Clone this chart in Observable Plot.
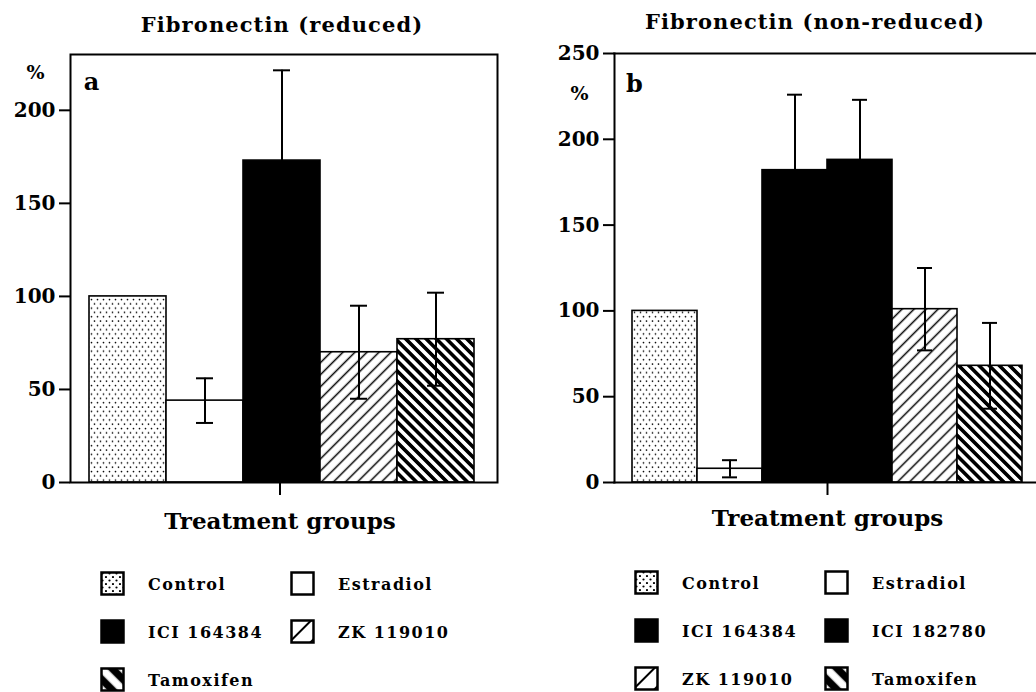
<!DOCTYPE html>
<html><head><meta charset="utf-8">
<script src="https://cdn.jsdelivr.net/npm/d3@7"></script>
<script src="https://cdn.jsdelivr.net/npm/@observablehq/plot@0.6"></script>
<style>
html,body{margin:0;padding:0;background:#fff;overflow:hidden}
#root{position:relative;width:1036px;height:692px;font-family:"DejaVu Serif",serif;font-weight:bold;color:#000;overflow:hidden}
.title{position:absolute;font-size:21px;line-height:24px;white-space:nowrap;transform:translateX(-50%);letter-spacing:1.1px}
.panel{position:absolute;top:40px}
.legend{position:absolute;display:grid;grid-template-columns:48px 142px 48px auto;grid-auto-rows:48px;align-items:center;font-size:16px;letter-spacing:1.5px}
.legend svg{display:block}
</style></head><body>
<svg width="0" height="0" style="position:absolute">
<defs>
<pattern id="dots" patternUnits="userSpaceOnUse" width="6" height="8.6"><rect width="6" height="8.6" fill="white"/><circle cx="1.5" cy="1.5" r="0.85" fill="black"/><circle cx="4.5" cy="5.8" r="0.85" fill="black"/></pattern>
<pattern id="fwd" patternUnits="userSpaceOnUse" width="8.5" height="8" patternTransform="rotate(45)"><rect width="8.5" height="8" fill="white"/><line x1="4.25" y1="-1" x2="4.25" y2="9" stroke="black" stroke-width="1.5"/></pattern>
<pattern id="back" patternUnits="userSpaceOnUse" width="7.2" height="8" patternTransform="rotate(-45)"><rect width="7.2" height="8" fill="white"/><line x1="3.6" y1="-1" x2="3.6" y2="9" stroke="black" stroke-width="3.6"/></pattern>
<pattern id="ldots" patternUnits="userSpaceOnUse" width="7" height="7"><rect width="7" height="7" fill="white"/><circle cx="2.5" cy="2.5" r="1.1" fill="black"/><circle cx="6" cy="6" r="1.1" fill="black"/></pattern>
<pattern id="lfwd" patternUnits="userSpaceOnUse" width="15" height="15" patternTransform="rotate(45)"><rect width="15" height="15" fill="white"/><line x1="0" y1="-1" x2="0" y2="16" stroke="black" stroke-width="4"/></pattern>
<pattern id="lback" patternUnits="userSpaceOnUse" width="15" height="15" patternTransform="rotate(-45)"><rect width="15" height="15" fill="white"/><line x1="7.5" y1="-1" x2="7.5" y2="16" stroke="black" stroke-width="7.5"/></pattern>
</defs></svg>
<div id="root"></div>
<script>
// ---- data ----
const groupLabel = "Treatment groups";
const titleA = "Fibronectin (reduced)";
const titleB = "Fibronectin (non-reduced)";
const categoriesA = ["Control", "Estradiol", "ICI 164384", "ZK 119010", "Tamoxifen"];
const valuesA = [100, 44, 173, 70, 77];
const errorsA = [null, 12, 48.5, 25, 25];
const ticksA = [0, 50, 100, 150, 200];
const categoriesB = ["Control", "Estradiol", "ICI 164384", "ICI 182780", "ZK 119010", "Tamoxifen"];
const valuesB = [100, 8, 182, 188, 101, 68];
const errorsB = [null, 5, 44, 35, 24, 25];
const ticksB = [0, 50, 100, 150, 200, 250];

// ---- styles ----
const fills = {"Control": "url(#dots)", "Estradiol": "white", "ICI 164384": "black", "ICI 182780": "black", "ZK 119010": "url(#fwd)", "Tamoxifen": "url(#back)"};
const legendFills = {"Control": "url(#ldots)", "Estradiol": "white", "ICI 164384": "black", "ICI 182780": "black", "ZK 119010": "url(#lfwd)", "Tamoxifen": "url(#lback)"};

const root = document.getElementById("root");

function panel(o) {
  const data = o.cats.map((t, i) => ({g: groupLabel, t, v: o.vals[i], e: o.errs[i]}));
  const withErr = data.filter(d => d.e != null);
  const frames = o.open
    ? [Plot.frame({anchor: "left", stroke: "black", strokeWidth: 2}),
       Plot.frame({anchor: "top", stroke: "black", strokeWidth: 2}),
       Plot.frame({anchor: "bottom", stroke: "black", strokeWidth: 2})]
    : [Plot.frame({stroke: "black", strokeWidth: 2})];
  return Plot.plot({
    width: o.width, height: 505,
    marginLeft: o.marginLeft, marginRight: o.marginRight, marginTop: o.marginTop, marginBottom: 63,
    style: {fontFamily: "DejaVu Serif", fontWeight: "bold", fontSize: "20px", color: "black", background: "transparent", overflow: "visible"},
    fx: {domain: [groupLabel], padding: 0, label: null},
    x: {domain: o.cats, paddingInner: 0, paddingOuter: o.paddingOuter, align: o.align, axis: null},
    y: {domain: o.domain},
    color: {type: "identity"},
    marks: [
      Plot.barY(data, {fx: "g", x: "t", y: "v", fill: d => fills[d.t], stroke: "black", strokeWidth: 1.6}),
      Plot.ruleX(withErr, {fx: "g", x: "t", y1: d => d.v - d.e, y2: d => d.v + d.e, stroke: "black", strokeWidth: 2}),
      Plot.tickY(withErr, {fx: "g", x: "t", y: d => d.v + d.e, stroke: "black", strokeWidth: 2, insetLeft: o.capInset, insetRight: o.capInset}),
      Plot.tickY(withErr, {fx: "g", x: "t", y: d => d.v - d.e, stroke: "black", strokeWidth: 2, insetLeft: o.capInset, insetRight: o.capInset}),
      ...frames,
      Plot.axisY({ticks: o.ticks, tickSize: 11, tickPadding: 4, strokeWidth: 2, fontSize: 20, label: null}),
      Plot.axisFx({anchor: "bottom", tickSize: 13, tickPadding: o.fxPad, strokeWidth: 2, fontSize: 23, label: null, dx: o.fxDx}),
      Plot.text(["%"], {frameAnchor: "top-left", dx: o.pct[0], dy: o.pct[1], fontSize: 19, textAnchor: "middle", lineAnchor: "middle"}),
      Plot.text([o.letter], {frameAnchor: "top-left", dx: o.let[0], dy: o.let[1], fontSize: 24, textAnchor: "middle", lineAnchor: "middle"})
    ]
  });
}

function addTitle(text, cx, top) {
  const d = document.createElement("div");
  d.className = "title"; d.textContent = text;
  d.style.left = cx + "px"; d.style.top = top + "px";
  root.appendChild(d);
}

function addLegend(cats, left, top) {
  const d = document.createElement("div");
  d.className = "legend"; d.style.left = left + "px"; d.style.top = top + "px";
  for (const c of cats) {
    const sw = document.createElementNS("http://www.w3.org/2000/svg", "svg");
    sw.setAttribute("width", 26); sw.setAttribute("height", 26);
    const r = document.createElementNS("http://www.w3.org/2000/svg", "rect");
    r.setAttribute("x", 1.5); r.setAttribute("y", 1.5); r.setAttribute("width", 22); r.setAttribute("height", 22);
    r.setAttribute("fill", legendFills[c]); r.setAttribute("stroke", "black"); r.setAttribute("stroke-width", 2.5);
    sw.appendChild(r);
    const cell = document.createElement("div"); cell.appendChild(sw);
    const lab = document.createElement("div"); lab.textContent = c;
    d.appendChild(cell); d.appendChild(lab);
  }
  root.appendChild(d);
}

addTitle(titleA, 282, 13);
addTitle(titleB, 815, 10);

const a = panel({cats: categoriesA, vals: valuesA, errs: errorsA, domain: [0, 230], ticks: ticksA,
  width: 518, marginLeft: 70, marginRight: 21, marginTop: 14, paddingOuter: 0.25, align: 0.46, capInset: 30,
  open: false, letter: "a", pct: [-35, 18], let: [21, 28], fxPad: 17, fxDx: -4});
a.classList.add("panel"); a.style.left = "0px";
root.appendChild(a);

const b = panel({cats: categoriesB, vals: valuesB, errs: errorsB, domain: [0, 250], ticks: ticksB,
  width: 520, marginLeft: 98, marginRight: 0, marginTop: 13, paddingOuter: 0.197, align: 0.577, capInset: 25,
  open: true, letter: "b", pct: [-35, 40], let: [20, 31], fxPad: 14, fxDx: 2});
b.classList.add("panel"); b.style.left = "516px";
root.appendChild(b);

addLegend(categoriesA, 100, 560);
addLegend(categoriesB, 634, 559);
</script>
</body></html>
